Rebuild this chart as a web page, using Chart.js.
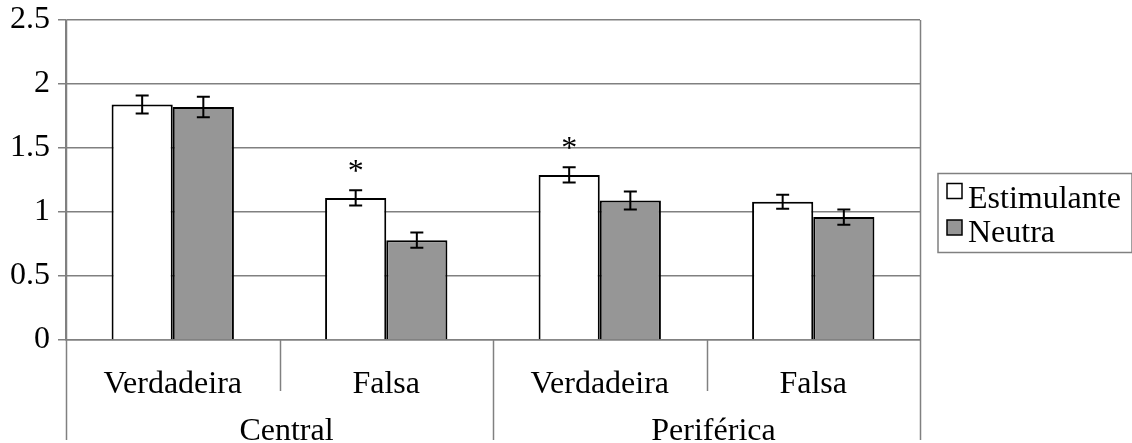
<!DOCTYPE html>
<html lang="pt">
<head>
    <meta charset="UTF-8">
    <title>Estimulante vs Neutra</title>
    <script src="https://cdn.jsdelivr.net/npm/chart.js"></script>
    <style>
        html, body {
            margin: 0;
            padding: 0;
            background: #fff;
        }
        .chart-container {
            position: relative;
            width: 1132px;
            height: 443px;
        }
    </style>
</head>
<body>
    <div class="chart-container">
        <canvas id="barChart"></canvas>
    </div>

    <script>
        // Data
        const categories = ['Verdadeira', 'Falsa', 'Verdadeira', 'Falsa'];
        const groups = ['Central', 'Periférica'];
        const stimValues = [1.84, 1.11, 1.29, 1.08];
        const stimErrors = [0.07, 0.06, 0.06, 0.055];
        const neutValues = [1.82, 0.78, 1.09, 0.96];
        const neutErrors = [0.08, 0.06, 0.07, 0.06];
        const stimSignificant = [false, true, true, false];
        const yTicks = [0, 0.5, 1, 1.5, 2, 2.5];

        const FONT = "'Liberation Serif', 'Times New Roman', serif";
        const FONT_SIZE = 32;
        const GRID = '#808080';

        // error bars + asterisks
        const errorBarPlugin = {
            id: 'errorBars',
            afterDatasetsDraw(chart) {
                const ctx = chart.ctx;
                const yScale = chart.scales.y;
                const errs = [stimErrors, neutErrors];
                ctx.save();
                ctx.strokeStyle = '#000';
                ctx.lineWidth = 2;
                chart.data.datasets.forEach((ds, di) => {
                    const meta = chart.getDatasetMeta(di);
                    meta.data.forEach((bar, i) => {
                        const v = ds.data[i];
                        const top = yScale.getPixelForValue(v + errs[di][i]);
                        const bot = yScale.getPixelForValue(v - errs[di][i]);
                        ctx.beginPath();
                        ctx.moveTo(bar.x, top);
                        ctx.lineTo(bar.x, bot);
                        ctx.moveTo(bar.x - 6.5, top);
                        ctx.lineTo(bar.x + 6.5, top);
                        ctx.moveTo(bar.x - 6.5, bot);
                        ctx.lineTo(bar.x + 6.5, bot);
                        ctx.stroke();
                        if (di === 0 && stimSignificant[i]) {
                            ctx.fillStyle = '#000';
                            ctx.font = FONT_SIZE + 'px ' + FONT;
                            ctx.textAlign = 'center';
                            ctx.textBaseline = 'alphabetic';
                            ctx.fillText('*', bar.x, top - 24 + 15);
                        }
                    });
                });
                ctx.restore();
            }
        };

        // category separators, group labels, frame and legend
        const layoutPlugin = {
            id: 'multiLevel',
            afterDraw(chart) {
                const ctx = chart.ctx;
                const area = chart.chartArea;
                const xScale = chart.scales.x;
                const step = xScale.getPixelForValue(1) - xScale.getPixelForValue(0);
                ctx.save();
                ctx.strokeStyle = GRID;
                ctx.lineWidth = 1.5;
                // separators between categories and groups
                for (let i = 0; i <= categories.length; i++) {
                    const x = Math.round(xScale.getPixelForValue(i) - step / 2) + 0.5;
                    const outer = i % 2 === 0;
                    ctx.beginPath();
                    ctx.moveTo(x, outer && (i === 0 || i === categories.length) ? area.top : area.bottom);
                    ctx.lineTo(x, outer ? 440 : 391);
                    ctx.stroke();
                }
                // group labels
                ctx.fillStyle = '#000';
                ctx.font = FONT_SIZE + 'px ' + FONT;
                ctx.textAlign = 'center';
                ctx.textBaseline = 'alphabetic';
                groups.forEach((g, gi) => {
                    const x = (xScale.getPixelForValue(gi * 2) + xScale.getPixelForValue(gi * 2 + 1)) / 2;
                    ctx.fillText(g, x + 7, 440);
                });

                // legend
                const lx = 938, ly = 173.5, lw = 194, lh = 79;
                ctx.strokeStyle = GRID;
                ctx.lineWidth = 1.5;
                ctx.strokeRect(lx, ly, lw, lh);
                ctx.textAlign = 'left';
                chart.data.datasets.forEach((ds, di) => {
                    const sy = 183.5 + di * 36.5;
                    ctx.fillStyle = ds.backgroundColor;
                    ctx.fillRect(947, sy, 15, 15);
                    ctx.strokeStyle = '#000';
                    ctx.lineWidth = 1.5;
                    ctx.strokeRect(947, sy, 15, 15);
                    ctx.fillStyle = '#000';
                    ctx.fillText(ds.label, 968, 207.5 + di * 34.5);
                });
                ctx.restore();
            }
        };

        const ctx = document.getElementById('barChart').getContext('2d');
        new Chart(ctx, {
            type: 'bar',
            data: {
                labels: categories,
                datasets: [{
                    label: 'Estimulante',
                    data: stimValues,
                    backgroundColor: '#ffffff',
                    borderColor: '#000000',
                    borderWidth: 2,
                    categoryPercentage: 0.573,
                    barPercentage: 1
                }, {
                    label: 'Neutra',
                    data: neutValues,
                    backgroundColor: '#969696',
                    borderColor: '#000000',
                    borderWidth: 2,
                    categoryPercentage: 0.573,
                    barPercentage: 1
                }]
            },
            options: {
                responsive: true,
                maintainAspectRatio: false,
                animation: false,
                layout: {
                    padding: { top: 20, right: 212, left: 0, bottom: 0 }
                },
                plugins: {
                    legend: { display: false },
                    tooltip: { enabled: false }
                },
                scales: {
                    x: {
                        grid: { display: false },
                        border: { display: true, color: GRID, width: 1.5 },
                        ticks: {
                            color: '#000',
                            font: { family: FONT, size: FONT_SIZE },
                            padding: 17,
                            maxRotation: 0,
                            autoSkip: false
                        },
                        afterFit(scale) {
                            scale.height = 103;
                            scale.paddingLeft = 0;
                            scale.paddingRight = 0;
                        }
                    },
                    y: {
                        min: 0,
                        max: 2.5,
                        afterBuildTicks(scale) {
                            scale.ticks = yTicks.map(v => ({ value: v }));
                        },
                        grid: { color: GRID, lineWidth: 1.5, tickLength: 8 },
                        border: { display: true, color: GRID, width: 1.5 },
                        ticks: {
                            color: '#000',
                            font: { family: FONT, size: FONT_SIZE },
                            padding: 8,
                            callback: v => String(v)
                        },
                        afterFit(scale) {
                            scale.width = 66;
                            scale.paddingTop = 0;
                            scale.paddingBottom = 0;
                        }
                    }
                }
            },
            plugins: [errorBarPlugin, layoutPlugin]
        });
    </script>
</body>
</html>
